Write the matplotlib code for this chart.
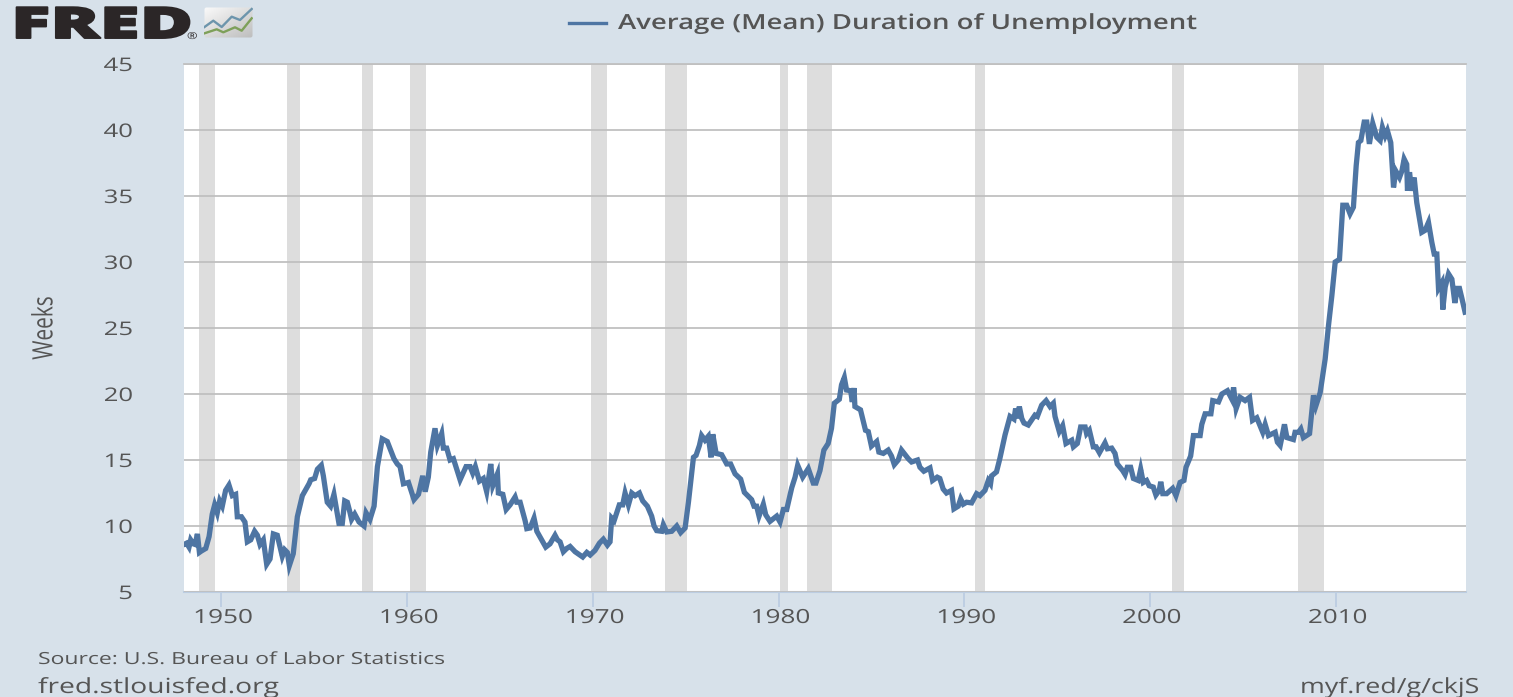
import numpy as np
import matplotlib
matplotlib.use("Agg")
import matplotlib.pyplot as plt
from matplotlib.patches import FancyBboxPatch
from matplotlib.patheffects import AbstractPathEffect
from matplotlib.transforms import Affine2D

# values (year, weeks)
years = [1948.0, 1948.14, 1948.27, 1948.36, 1948.5, 1948.6, 1948.72, 1948.83, 1948.93, 1949.17, 1949.35, 1949.52, 1949.65, 1949.79, 1949.92,
         1950.06, 1950.24, 1950.42, 1950.6, 1950.78, 1950.87, 1951.09, 1951.28, 1951.41, 1951.59, 1951.8, 1951.95, 1952.09, 1952.27, 1952.45, 1952.63, 1952.81,
         1953.02, 1953.29, 1953.42, 1953.56, 1953.67, 1953.88, 1954.1, 1954.37, 1954.73, 1954.82, 1955.03, 1955.18, 1955.39, 1955.5, 1955.71, 1955.89,
         1956.07, 1956.34, 1956.52, 1956.65, 1956.79, 1956.92, 1957.02, 1957.19, 1957.42, 1957.69, 1957.8, 1958.01, 1958.23, 1958.41, 1958.67, 1958.94, 1959.3, 1959.48,
         1959.63, 1959.81, 1960.08, 1960.38, 1960.62, 1960.85, 1960.98, 1961.15, 1961.28, 1961.51, 1961.64, 1961.87, 1961.96, 1962.14, 1962.32, 1962.5, 1962.68, 1962.86,
         1963.18, 1963.4, 1963.54, 1963.68, 1963.9, 1964.11, 1964.29, 1964.51, 1964.62, 1964.87, 1964.92, 1965.16, 1965.34, 1965.55, 1965.82, 1965.91,
         1966.09, 1966.36, 1966.45, 1966.63, 1966.84, 1966.99, 1967.25, 1967.47, 1967.7, 1967.97, 1968.1, 1968.24, 1968.42, 1968.6, 1968.78, 1969.05, 1969.46, 1969.68, 1969.86,
         1970.12, 1970.36, 1970.57, 1970.79, 1970.93, 1971.02, 1971.15, 1971.43, 1971.61, 1971.74, 1971.92, 1972.1, 1972.28, 1972.51, 1972.69, 1972.94,
         1973.17, 1973.3, 1973.44, 1973.71, 1973.8, 1973.98, 1974.25, 1974.52, 1974.73, 1974.97, 1975.15, 1975.42, 1975.56, 1975.74, 1975.86,
         1976.04, 1976.22, 1976.37, 1976.46, 1976.64, 1976.94, 1977.21, 1977.42, 1977.66, 1977.96, 1978.16, 1978.55, 1978.68, 1978.82, 1978.95,
         1979.18, 1979.31, 1979.54, 1979.9, 1980.08, 1980.26, 1980.44, 1980.71, 1980.89, 1981.03, 1981.3, 1981.6, 1981.87, 1982.01, 1982.23, 1982.44, 1982.67, 1982.85,
         1983.0, 1983.27, 1983.39, 1983.54, 1983.66, 1983.88, 1983.97, 1984.06, 1984.11, 1984.41, 1984.68, 1984.83, 1985.0, 1985.28, 1985.4, 1985.64, 1985.9,
         1986.08, 1986.23, 1986.44, 1986.62, 1986.98, 1987.16, 1987.48, 1987.61, 1987.82, 1988.15, 1988.29, 1988.54, 1988.68, 1988.86, 1989.04, 1989.31, 1989.44, 1989.67, 1989.8, 1989.94,
         1990.12, 1990.39, 1990.66, 1990.84, 1991.11, 1991.29, 1991.41, 1991.47, 1991.73, 1991.91, 1992.19, 1992.46, 1992.67, 1992.76, 1992.85, 1992.96,
         1993.09, 1993.21, 1993.44, 1993.8, 1993.93, 1994.16, 1994.4, 1994.61, 1994.79, 1994.88, 1995.11, 1995.29, 1995.47, 1995.78, 1995.87,
         1996.08, 1996.26, 1996.5, 1996.58, 1996.73, 1996.94, 1997.09, 1997.27, 1997.57, 1997.7, 1997.93, 1998.11, 1998.23, 1998.52, 1998.65, 1998.77, 1998.95,
         1999.1, 1999.36, 1999.49, 1999.63, 1999.81, 1999.95, 2000.17, 2000.31, 2000.49, 2000.57, 2000.68, 2000.89, 2001.21, 2001.39, 2001.61, 2001.82, 2001.93, 2002.18,
         2002.33, 2002.69, 2002.78, 2002.96, 2003.27, 2003.37, 2003.68, 2003.86, 2004.16, 2004.4, 2004.49, 2004.63, 2004.84, 2005.11, 2005.35, 2005.51, 2005.74,
         2006.06, 2006.19, 2006.37, 2006.73, 2006.85, 2007.0, 2007.23, 2007.36, 2007.71, 2007.8, 2007.98, 2008.11, 2008.25, 2008.58, 2008.79, 2008.92,
         2009.15, 2009.42, 2009.6, 2009.78, 2009.96, 2010.19, 2010.37, 2010.58, 2010.76, 2010.94, 2011.09, 2011.21, 2011.34, 2011.52, 2011.66, 2011.8, 2011.98,
         2012.2, 2012.38, 2012.5, 2012.65, 2012.77, 2012.95, 2013.1, 2013.22, 2013.42, 2013.55, 2013.67, 2013.81, 2013.85, 2013.96,
         2014.08, 2014.21, 2014.35, 2014.62, 2014.8, 2014.98, 2015.16, 2015.29, 2015.43, 2015.52, 2015.7, 2015.75, 2015.88,
         2016.06, 2016.24, 2016.4, 2016.54, 2016.65, 2016.77, 2016.95]
weeks = [8.6, 8.7, 8.4, 8.95, 8.65, 8.6, 9.4, 8.0, 8.1, 8.3, 9.2, 10.9, 11.6, 11.0, 11.9,
         11.5, 12.7, 13.1, 12.3, 12.4, 10.7, 10.7, 10.3, 8.8, 8.95, 9.6, 9.3, 8.6, 8.95, 7.1, 7.5, 9.4,
         9.3, 7.7, 8.2, 8.0, 7.0, 7.9, 10.7, 12.3, 13.2, 13.5, 13.6, 14.3, 14.6, 13.8, 11.8, 11.5,
         12.4, 10.2, 10.2, 11.9, 11.8, 11.1, 10.5, 10.9, 10.3, 10.0, 11.0, 10.5, 11.5, 14.5, 16.6, 16.4, 15.1, 14.7,
         14.5, 13.2, 13.3, 12.0, 12.4, 13.8, 12.6, 13.7, 15.6, 17.4, 16.1, 17.0, 15.9, 15.9, 15.0, 15.1, 14.3, 13.5,
         14.5, 14.5, 14.0, 14.5, 13.4, 13.6, 12.6, 14.7, 13.05, 13.95, 12.5, 12.4, 11.25, 11.6, 12.2, 11.8,
         11.8, 10.4, 9.8, 9.85, 10.6, 9.6, 8.95, 8.4, 8.65, 9.3, 8.95, 8.8, 8.05, 8.3, 8.45, 8.05, 7.65, 8.0, 7.8,
         8.15, 8.7, 9.0, 8.55, 8.8, 10.6, 10.4, 11.6, 11.6, 12.5, 11.6, 12.5, 12.3, 12.5, 11.9, 11.5,
         10.75, 10.0, 9.65, 9.6, 10.1, 9.55, 9.6, 10.0, 9.5, 9.85, 11.8, 15.2, 15.35, 16.1, 16.85,
         16.5, 16.8, 15.2, 16.95, 15.5, 15.4, 14.7, 14.7, 13.95, 13.55, 12.55, 12.0, 11.5, 11.5, 10.75,
         11.65, 10.85, 10.35, 10.75, 10.3, 11.25, 11.25, 12.9, 13.7, 14.6, 13.7, 14.35, 13.25, 13.25, 14.2, 15.75, 16.25, 17.4,
         19.3, 19.6, 20.7, 21.25, 20.3, 20.25, 19.4, 20.45, 19.05, 18.8, 17.25, 17.15, 16.05, 16.4, 15.6, 15.5, 15.75,
         15.3, 14.65, 15.0, 15.75, 15.1, 14.85, 15.0, 14.45, 14.15, 14.4, 13.45, 13.7, 13.6, 12.8, 12.5, 12.7, 11.3, 11.5, 12.05, 11.65,
         11.8, 11.75, 12.45, 12.3, 12.7, 13.45, 13.2, 13.8, 14.1, 15.1, 16.9, 18.3, 18.1, 18.9, 18.15, 19.05,
         18.15, 17.8, 17.65, 18.4, 18.3, 19.15, 19.5, 19.05, 19.3, 18.3, 17.15, 17.6, 16.25, 16.5, 16.0,
         16.25, 17.5, 17.5, 17.0, 17.25, 16.0, 16.0, 15.55, 16.3, 15.85, 15.9, 15.5, 14.7, 14.2, 13.9, 14.45, 14.45,
         13.6, 13.45, 14.3, 13.3, 13.45, 13.05, 12.95, 12.35, 12.7, 13.35, 12.45, 12.45, 12.85, 12.3, 13.3, 13.45, 14.45, 15.3,
         16.85, 16.85, 17.7, 18.5, 18.5, 19.5, 19.4, 20.0, 20.25, 19.6, 20.5, 18.9, 19.75, 19.5, 19.75, 18.0, 18.2,
         17.1, 17.7, 16.85, 17.1, 16.35, 16.1, 17.7, 16.7, 16.55, 17.1, 17.1, 17.35, 16.7, 17.0, 19.9, 19.1,
         20.1, 22.65, 25.2, 27.45, 30.0, 30.2, 34.3, 34.3, 33.65, 34.15, 37.3, 39.05, 39.2, 40.6, 40.6, 38.95, 40.5,
         39.45, 39.2, 40.2, 39.55, 39.95, 39.05, 35.65, 36.9, 36.4, 36.9, 37.8, 37.4, 35.4, 36.8,
         35.4, 36.4, 34.5, 32.25, 32.4, 33.0, 31.5, 30.6, 30.6, 28.0, 28.45, 26.4, 28.1,
         29.1, 28.7, 26.9, 28.0, 28.0, 27.3, 26.2]

recession_start = [1948.81, 1953.54, 1957.58, 1960.16, 1969.9, 1973.89, 1980.08, 1981.53, 1990.57, 2001.18, 2007.96]
recession_end = [1949.67, 1954.24, 1958.17, 1961.02, 1970.77, 1975.07, 1980.5, 1982.88, 1991.11, 2001.82, 2009.36]

x_ticks = [1950, 1960, 1970, 1980, 1990, 2000, 2010]
y_ticks = [5, 10, 15, 20, 25, 30, 35, 40, 45]

W, H = 1513, 697
bg = "#d7e1ea"
blue = "#4e75a3"
grey = "#555555"


# the reference was squeezed into a wider frame, so its text is stretched sideways
class Stretch(AbstractPathEffect):
    def __init__(self, x0, sx, stroke=0):
        super().__init__()
        self.x0 = x0
        self.sx = sx
        self.stroke = stroke

    def draw_path(self, renderer, gc, tpath, affine, rgbFace=None):
        t = affine + Affine2D().translate(-self.x0, 0).scale(self.sx, 1).translate(self.x0, 0)
        if self.stroke:
            gc.set_linewidth(self.stroke)
            gc.set_foreground(rgbFace)
        renderer.draw_path(gc, tpath, t, rgbFace)


plt.rcParams['font.family'] = ['Open Sans', 'DejaVu Sans']
fig = plt.figure(figsize=(W / 100, H / 100), dpi=100, facecolor=bg)
renderer = fig.canvas.get_renderer()


def put(x, y, s, size, width=None, sx=1.37, ha="left", va="baseline", stroke=0, **kw):
    txt = fig.text(x / W, 1 - y / H, s, fontsize=size, ha=ha, va=va, color=kw.pop("color", grey), **kw)
    if width is not None:
        sx = width / txt.get_window_extent(renderer).width
    txt.set_path_effects([Stretch(x, sx, stroke)])
    return txt


ax = fig.add_axes([184 / W, 1 - 592 / H, 1282 / W, 528 / H])

for a, b in zip(recession_start, recession_end):
    ax.axvspan(a, b, color="#dddddd", lw=0, zorder=1)
ax.plot(years, weeks, color=blue, lw=3.8, solid_joinstyle="miter", zorder=3)

ax.set_xlim(1948, 2017)
ax.set_ylim(5, 45)
ax.set_xticks(x_ticks)
ax.set_yticks(y_ticks)
ax.grid(axis="y", color="#c0c0c0", lw=1.3, zorder=2)
ax.set_axisbelow(False)
for s in ["left", "right"]:
    ax.spines[s].set_visible(False)
ax.spines["top"].set_color("#c0c0c0")
ax.spines["top"].set_linewidth(1.3)
ax.spines["bottom"].set_color("#bccde2")
ax.spines["bottom"].set_linewidth(1.5)
ax.tick_params(axis="x", length=10.5, width=1.3, color="#bccde2")
ax.tick_params(axis="y", length=0)
ax.set_xticklabels([])
ax.set_yticklabels([])

for t in x_ticks:
    px = ax.transData.transform((t, 5))[0] + 2
    put(px, 623, str(t), 14, width=60, ha="center")
for t in y_ticks:
    py = H - ax.transData.transform((1948, t))[1] + 7
    put(133, py, str(t), 13.5, sx=1.37, ha="right")

put(45, 328, "Weeks", 15, sx=1.35, ha="center", va="center", rotation=90)

put(618, 29, "Average (Mean) Duration of Unemployment", 15, width=581, weight="semibold")
fig.add_artist(plt.Line2D([569 / W, 606 / W], [1 - 23 / H, 1 - 23 / H], color=blue, lw=2.4))

put(38, 664, "Source: U.S. Bureau of Labor Statistics", 12, width=405)
put(38, 693, "fred.stlouisfed.org", 15, width=241)
put(1479, 693, "myf.red/g/ckjS", 15, width=179, ha="right")

# logo
put(11, 38, "FRED", 31, width=182, weight="heavy", color="#2b2627", stroke=1.4)
put(187, 39, "®", 7, sx=1.3, color="#2b2627")
icon = fig.add_axes([204 / W, 1 - 38 / H, 49 / W, 31 / H])
icon.axis("off")
box = FancyBboxPatch((0.5, 0.5), 48, 30, boxstyle="round,pad=0,rounding_size=2", fc="none", ec="none")
icon.add_patch(box)
gx, gy = np.meshgrid(np.linspace(0, 1, 50), np.linspace(0, 1, 32))
grad = icon.imshow(0.98 - 0.11 * gx - 0.13 * gy, cmap="gray", vmin=0, vmax=1, extent=(0, 49, 31, 0), aspect="auto")
grad.set_clip_path(box)
icon.plot([0.5, 9.3, 17.7, 27.7, 36, 47.7], [20, 13.7, 20, 9.7, 13, 2], color="#6d95ac", lw=1.7)
icon.plot([0.5, 12.7, 19.3, 31, 37.7, 47.7], [26.3, 22.3, 25.3, 20.3, 23.7, 11.3], color="#7ea05a", lw=1.7)
icon.set_xlim(0, 49)
icon.set_ylim(31, 0)

fig.savefig("out.png", dpi=100, facecolor=bg)
